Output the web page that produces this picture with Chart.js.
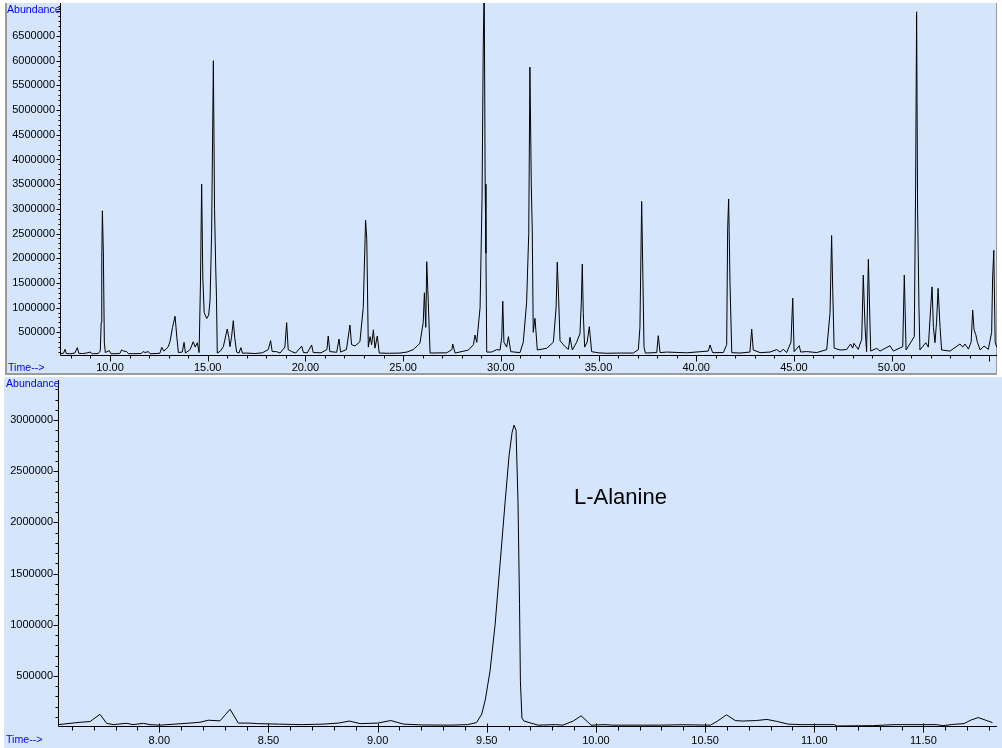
<!DOCTYPE html>
<html><head><meta charset="utf-8">
<script src="https://cdn.jsdelivr.net/npm/chart.js@4.4.0/dist/chart.umd.min.js"></script>
<style>
html,body{margin:0;padding:0;background:#fff;width:1002px;height:748px;overflow:hidden;position:relative;font-family:"Liberation Sans",Arial,sans-serif;}
.panel{position:absolute;background:#d5e5fb;}
#p1{left:5px;top:3px;width:989px;height:370px;border-left:2px solid #9a9a9a;border-right:1px solid #9a9a9a;border-bottom:2px solid #9a9a9a;}
#p2{left:4px;top:377px;width:998px;height:371px;}
canvas{position:absolute;left:0;}
#c1{top:0;}
#c2{top:376px;}
.lbl{position:absolute;font-size:10.6px;line-height:12px;color:#0000ff;white-space:nowrap;}
#peak{position:absolute;font-size:22px;line-height:26px;color:#000;white-space:nowrap;}
</style></head>
<body>
<div class="panel" id="p1"></div>
<div class="panel" id="p2"></div>
<canvas id="c1" width="1002" height="376"></canvas>
<canvas id="c2" width="1002" height="372"></canvas>
<div class="lbl" style="left:7px;top:3px;">Abundance</div>
<div class="lbl" style="left:8px;top:361px;">Time--&gt;</div>
<div class="lbl" style="left:6px;top:377px;">Abundance</div>
<div class="lbl" style="left:6px;top:733px;">Time--&gt;</div>
<div id="peak" style="left:574px;top:484px;">L-Alanine</div>
<script>
// ---------- DATA ----------
const topTime = [7.46,7.62,7.70,7.76,7.95,8.20,8.33,8.40,8.60,8.80,8.98,9.10,9.40,9.50,9.55,9.58,9.61,9.66,9.71,9.76,9.96,10.05,10.50,10.60,10.70,10.85,10.95,11.60,11.70,11.80,11.96,12.05,12.55,12.65,12.75,12.87,12.97,13.07,13.20,13.33,13.42,13.50,13.70,13.79,13.86,14.10,14.26,14.36,14.47,14.56,14.63,14.69,14.75,14.82,14.95,15.05,15.12,15.20,15.29,15.35,15.41,15.45,15.49,15.65,15.80,16.00,16.08,16.14,16.22,16.31,16.38,16.48,16.60,16.70,16.78,17.00,17.40,17.80,18.10,18.22,18.30,18.53,18.70,18.95,19.04,19.12,19.30,19.50,19.81,19.90,20.10,20.32,20.40,20.80,21.10,21.17,21.25,21.60,21.72,21.80,22.10,22.28,22.36,22.54,22.79,22.96,23.08,23.14,23.22,23.31,23.39,23.48,23.56,23.68,23.78,24.30,24.84,25.20,25.52,25.86,26.03,26.09,26.16,26.21,26.29,26.38,27.23,27.50,27.54,27.66,28.34,28.60,28.68,28.77,28.94,29.04,29.10,29.15,29.20,29.24,29.28,29.53,29.79,29.96,30.05,30.10,30.16,30.30,30.39,30.51,30.98,31.15,31.32,31.43,31.49,31.56,31.61,31.66,31.75,31.87,32.35,32.69,32.83,32.89,32.96,33.03,33.29,33.46,33.54,33.66,33.88,34.05,34.12,34.17,34.22,34.29,34.42,34.53,34.65,34.99,35.42,35.93,36.78,37.04,37.12,37.21,37.26,37.33,37.40,37.98,38.06,38.15,38.49,39.51,40.62,40.71,40.84,41.39,41.56,41.61,41.66,41.73,41.82,42.24,42.75,42.84,42.92,43.27,43.78,44.12,44.29,44.46,44.63,44.85,44.94,45.01,45.27,45.35,45.65,46.17,46.68,46.85,46.93,46.99,47.06,47.36,47.70,47.90,48.01,48.07,48.29,48.47,48.55,48.64,48.72,48.81,48.86,48.93,49.24,49.41,49.92,50.09,50.57,50.65,50.74,51.16,51.23,51.28,51.33,51.40,51.45,51.75,51.88,52.00,52.07,52.14,52.22,52.30,52.38,52.48,52.56,52.99,53.50,53.64,53.76,53.93,54.07,54.15,54.22,54.31,54.39,54.53,54.73,54.95,55.12,55.17,55.23,55.30,55.38];
const topAbund = [70000,75000,156000,70000,65000,80000,190000,75000,70000,80000,100000,65000,70000,120000,700000,2000000,2960000,2130000,300000,90000,130000,65000,70000,145000,120000,110000,65000,70000,110000,90000,110000,65000,75000,196000,120000,162000,200000,310000,600000,825000,400000,90000,100000,297000,80000,150000,310000,200000,290000,90000,1500000,3500000,1600000,900000,780000,850000,1150000,2500000,6000000,3000000,1820000,1200000,80000,120000,209000,567000,400000,209000,400000,736000,400000,100000,80000,190000,75000,80000,70000,85000,150000,331000,110000,108000,80000,200000,695000,150000,108000,80000,220000,90000,85000,243000,90000,85000,150000,425000,110000,95000,364000,100000,150000,648000,250000,223000,310000,1000000,2770000,2400000,200000,412000,250000,550000,180000,425000,80000,75000,80000,100000,150000,277000,700000,1300000,600000,1930000,1100000,80000,85000,150000,263000,80000,140000,250000,445000,297000,1000000,3200000,6200000,7600000,3500000,2100000,100000,100000,150000,140000,400000,1130000,300000,200000,412000,108000,88000,300000,1100000,2500000,5870000,3500000,2570000,500000,783000,142000,176000,300000,1000000,1920000,1200000,330000,209000,155000,400000,142000,300000,470000,1100000,1880000,900000,200000,300000,614000,108000,85000,75000,80000,80000,150000,600000,3150000,1900000,200000,80000,90000,432000,88000,100000,85000,120000,243000,88000,90000,250000,2600000,3200000,1500000,88000,80000,100000,567000,142000,88000,100000,150000,100000,155000,90000,300000,1190000,108000,229000,100000,110000,90000,150000,900000,2460000,1300000,180000,142000,150000,263000,180000,277000,155000,358000,1660000,614000,108000,1980000,1200000,120000,176000,120000,229000,120000,209000,1660000,142000,412000,3500000,6990000,3000000,1000000,142000,290000,200000,1000000,1420000,600000,290000,700000,1390000,600000,142000,120000,263000,200000,263000,160000,300000,950000,550000,450000,300000,142000,223000,155000,500000,1600000,2160000,300000,200000];
const topXTicks = [10,15,20,25,30,35,40,45,50];
const topYTicks = [500000,1000000,1500000,2000000,2500000,3000000,3500000,4000000,4500000,5000000,5500000,6000000,6500000];

const botTime = [7.537,7.637,7.683,7.728,7.759,7.788,7.850,7.880,7.927,7.957,8.003,8.126,8.186,8.224,8.278,8.324,8.362,8.415,8.45,8.55,8.65,8.75,8.82,8.87,8.92,9.00,9.06,9.12,9.20,9.332,9.412,9.453,9.477,9.493,9.515,9.538,9.561,9.584,9.602,9.616,9.625,9.634,9.643,9.650,9.654,9.661,9.670,9.735,9.815,9.848,9.896,9.932,9.961,9.977,10.042,10.074,10.30,10.39,10.525,10.557,10.598,10.638,10.671,10.735,10.783,10.832,10.88,10.944,11.09,11.106,11.267,11.364,11.558,11.59,11.638,11.686,11.718,11.751,11.783,11.816];
const botAbund = [25000,48000,55000,126000,38000,25000,38000,25000,38000,25000,20000,38000,48000,68000,62000,175000,40000,40000,35000,30000,25000,30000,40000,60000,35000,40000,65000,30000,22000,20000,25000,45000,128000,266000,550000,1000000,1600000,2200000,2650000,2880000,2950000,2900000,2200000,1200000,450000,90000,60000,20000,25000,20000,60000,111000,55000,20000,25000,20000,20000,24000,20000,60000,121000,65000,60000,65000,76000,55000,30000,25000,25000,12000,15000,25000,25000,15000,28000,35000,70000,94000,70000,45000];
const botXTicks = [8.0,8.5,9.0,9.5,10.0,10.5,11.0,11.5];
const botYTicks = [500000,1000000,1500000,2000000,2500000,3000000];

// ---------- CHARTS ----------
Chart.defaults.font.family = '"Liberation Sans", Arial, sans-serif';

const tickPlugin = {
  id: 'axisTicks',
  afterDraw(chart, args, o) {
    const ctx = chart.ctx, xs = chart.scales.x, ys = chart.scales.y, ca = chart.chartArea;
    const ax = Math.round(ca.left) + 0.5, ay = Math.round(ca.bottom) + 0.5;
    ctx.save();
    ctx.strokeStyle = '#000';
    ctx.lineWidth = 1;
    ctx.beginPath();
    ctx.moveTo(ax, Math.round(ca.top)); ctx.lineTo(ax, ay);
    ctx.lineTo(Math.round(ca.right), ay);
    const xStart = Math.ceil(xs.min / o.xStep) * o.xStep;
    for (let i = 0; ; i++) {
      const v = +(xStart + i * o.xStep).toFixed(6);
      if (v > xs.max) break;
      const px = Math.round(xs.getPixelForValue(v)) + 0.5;
      const major = Math.abs(v / o.xMajor - Math.round(v / o.xMajor)) < 1e-6;
      ctx.moveTo(px, ay - (major ? o.xMajorUp : 0));
      ctx.lineTo(px, ay + (major ? o.xMajorLen : o.xMinorLen));
    }
    const yStart = Math.ceil(ys.min / o.yStep) * o.yStep;
    for (let i = 0; ; i++) {
      const v = yStart + i * o.yStep;
      if (v > ys.max) break;
      const py = Math.round(ys.getPixelForValue(v)) + 0.5;
      const major = v % o.yMajor === 0;
      ctx.moveTo(ax, py);
      ctx.lineTo(ax - (major ? o.yMajorLen : o.yMinorLen), py);
    }
    ctx.stroke();
    ctx.restore();
  }
};

function makeChart(id, times, vals, c) {
  const data = times.map((t, i) => ({x: t, y: vals[i]}));
  return new Chart(document.getElementById(id), {
    type: 'line',
    data: {datasets: [{data: data, borderColor: '#000', borderWidth: 1, pointRadius: 0, tension: 0, fill: false}]},
    options: {
      responsive: false, animation: false, devicePixelRatio: 1,
      layout: {padding: {left: 0, right: c.padRight, top: c.padTop, bottom: 0}},
      plugins: {legend: {display: false}, tooltip: {enabled: false},
        axisTicks: c.ticks},
      scales: {
        x: {
          type: 'linear', min: c.xMin, max: c.xMax,
          grid: {display: false, drawTicks: false, tickLength: 0},
          border: {display: false},
          ticks: {autoSkip: false, maxRotation: 0, color: '#000', padding: c.xLabelPad,
            font: {size: 11}, callback: v => Number(v).toFixed(2)},
          afterBuildTicks: s => { s.ticks = c.xTicks.map(v => ({value: v})); },
          afterFit: s => { s.height = c.xAxisH; s.paddingLeft = 0; s.paddingRight = 0; s.paddingTop = 0; s.paddingBottom = 0; }
        },
        y: {
          type: 'linear', min: c.yMin, max: c.yMax,
          grid: {display: false, drawTicks: false, tickLength: 0},
          border: {display: false},
          ticks: {autoSkip: false, color: '#000', padding: c.yLabelPad, font: {size: 11},
            callback: v => String(v)},
          afterBuildTicks: s => { s.ticks = c.yTicks.map(v => ({value: v})); },
          afterFit: s => { s.width = c.yAxisW; s.paddingLeft = 0; s.paddingRight = 0; s.paddingTop = 0; s.paddingBottom = 0; }
        }
      }
    },
    plugins: [tickPlugin]
  });
}

makeChart('c1', topTime, topAbund, {
  xMin: 7.441, xMax: 55.394, yMin: 40500, yMax: 7168500,
  xTicks: topXTicks, yTicks: topYTicks,
  padRight: 5, padTop: 3, xAxisH: 21, yAxisW: 60, xLabelPad: 6, yLabelPad: 5,
  ticks: {xStep: 1, xMajor: 5, xMinorLen: 3, xMajorLen: 6, xMajorUp: 0, yStep: 100000, yMajor: 500000, yMinorLen: 2, yMajorLen: 4}
});

makeChart('c2', botTime, botAbund, {
  xMin: 7.536, xMax: 11.837, yMin: 11700, yMax: 3391000,
  xTicks: botXTicks, yTicks: botYTicks,
  padRight: 5, padTop: 4, xAxisH: 22, yAxisW: 58, xLabelPad: 8, yLabelPad: 5,
  ticks: {xStep: 0.1, xMajor: 0.5, xMinorLen: 4, xMajorLen: 6, xMajorUp: 3, yStep: 100000, yMajor: 500000, yMinorLen: 3, yMajorLen: 5}
});
</script>
</body></html>
